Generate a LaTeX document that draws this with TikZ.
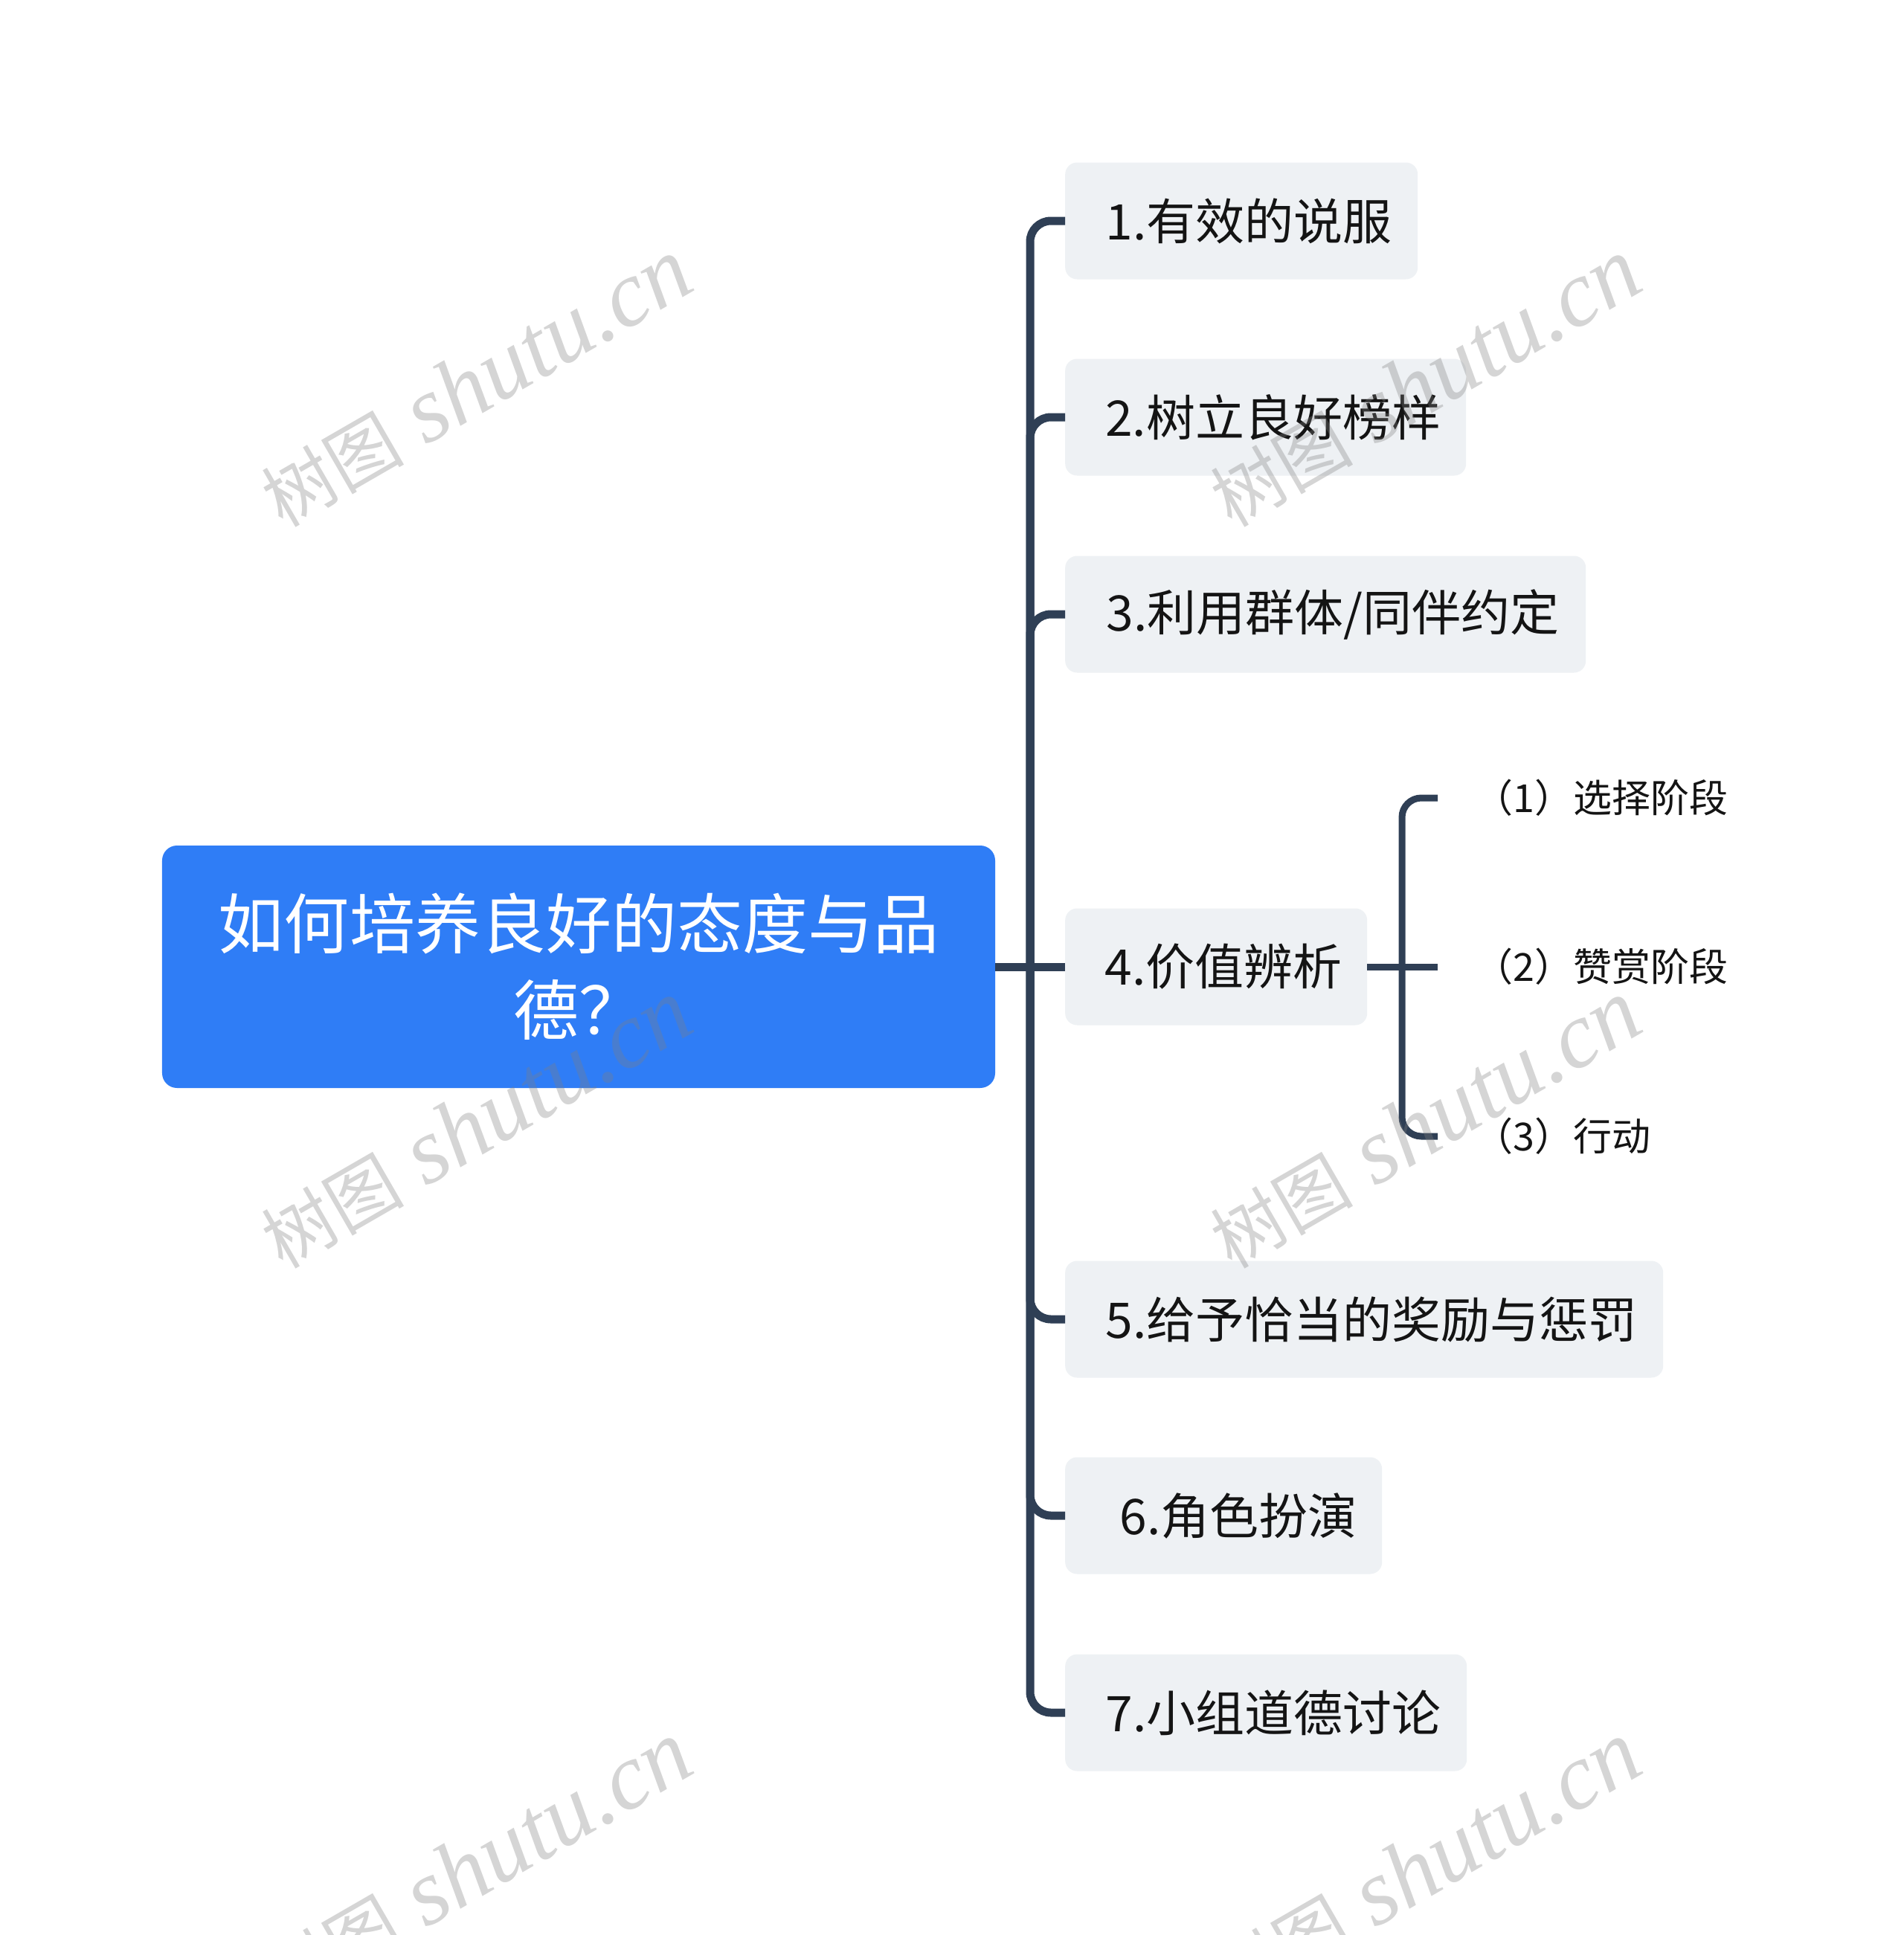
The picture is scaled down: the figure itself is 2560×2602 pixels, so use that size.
\documentclass[tikz,border=0pt]{standalone}
\usepackage{fontspec}
\newfontfamily\cjk{Noto Sans CJK SC}
\newfontfamily\wmlatin{Liberation Serif}
\definecolor{rootblue}{HTML}{2F7DF6}
\definecolor{boxfill}{HTML}{EEF1F4}
\definecolor{linecol}{HTML}{2F3F55}
\definecolor{textdark}{HTML}{141414}
\tikzset{
  rootbox/.style={rectangle, rounded corners=20bp, fill=rootblue, text=white, align=center,
    font=\cjk\fontsize{88bp}{116bp}\selectfont, minimum width=1120bp, minimum height=326bp, inner sep=0bp},
  topic/.style={rectangle, rounded corners=16bp, fill=boxfill, text=textdark, anchor=west,
    font=\cjk\fontsize{66bp}{79bp}\selectfont, minimum height=157bp, inner xsep=0bp, inner ysep=0bp,
    execute at begin node=\kern20bp},
  subtopic/.style={anchor=west, text=textdark, font=\cjk\fontsize{52bp}{62bp}\selectfont, inner xsep=49bp, inner ysep=0bp},
  link/.style={draw=linecol, line width=11bp, rounded corners=28bp},
  sublink/.style={draw=linecol, line width=9bp, rounded corners=26bp},
  wmark/.style={rotate=30, text=black!50, opacity=0.33}
}
\begin{document}
\begin{tikzpicture}[x=1bp, y=-1bp]
\useasboundingbox (0,0) rectangle (2560,2602);
\fill[white] (0,0) rectangle (2560,2602);

% root
\node[rootbox] (root) at (778,1300) {如何培养良好的态度与品\\德？};

% main topics
\node[topic, minimum width=474bp] (t1) at (1432,297) {1.有效的说服};
\node[topic, minimum width=539bp] (t2) at (1432,561) {2.树立良好榜样};
\node[topic, minimum width=700bp] (t3) at (1432,826) {3.利用群体/同伴约定};
\node[topic, minimum width=406bp] (t4) at (1432,1300) {4.价值辨析};
\node[topic, minimum width=804bp] (t5) at (1432,1774) {5.给予恰当的奖励与惩罚};
\node[topic, minimum width=426bp] (t6) at (1432,2038) {\kern0.3em6.角色扮演};
\node[topic, minimum width=540bp] (t7) at (1432,2303) {7.小组道德讨论};

% sub topics
\node[subtopic] (s1) at (1933,1073) {（1）选择阶段};
\node[subtopic] (s2) at (1933,1300) {（2）赞赏阶段};
\node[subtopic] (s3) at (1933,1528) {（3）行动};

% connectors
\coordinate (trunk) at (1385,1300);
\draw[link] (root.east) -- (t4.west);
\foreach \t in {t1,t2,t3,t5,t6,t7}{
  \draw[link] (trunk) |- (\t.west);
}
\coordinate (subtrunk) at (1885,1300);
\draw[sublink] (t4.east) -- (s2.west);
\draw[sublink] (subtrunk) |- (s1.west);
\draw[sublink] (subtrunk) |- (s3.west);

% watermarks
\foreach \wx/\wy [count=\i] in {640/515, 1916/515, 640/1512, 1916/1512, 640/2509, 1916/2509}{
  \node[wmark] (wm\i) at (\wx,\wy) {{\cjk\fontsize{96bp}{110bp}\selectfont 树图}\hspace{30bp}{\wmlatin\itshape\fontsize{126bp}{150bp}\selectfont shutu.cn}};
}
\end{tikzpicture}
\end{document}
